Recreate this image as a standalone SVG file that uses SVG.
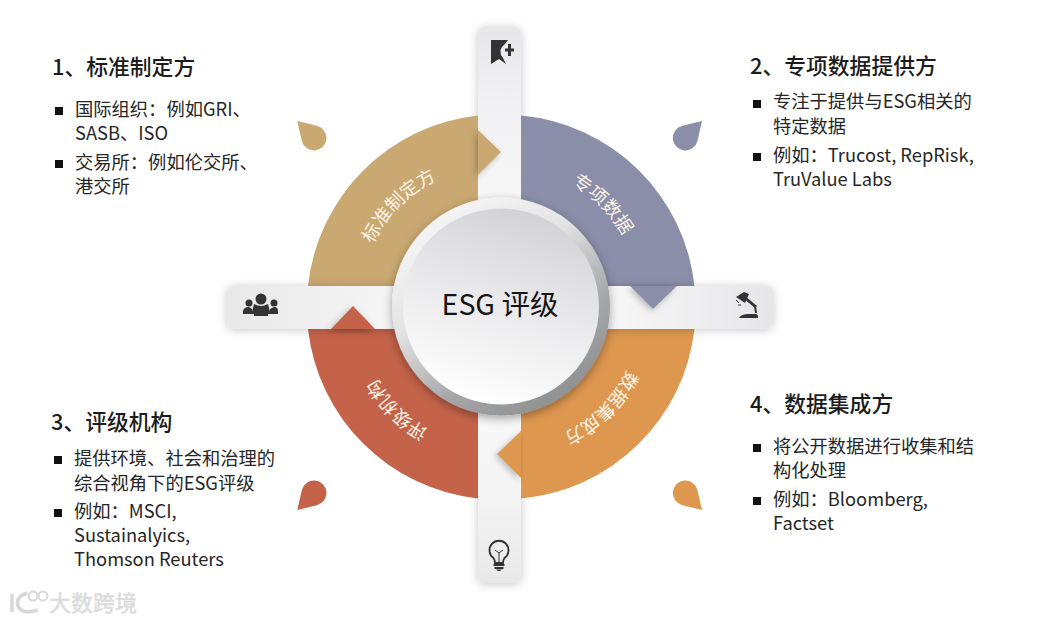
<svg xmlns="http://www.w3.org/2000/svg" xmlns:xlink="http://www.w3.org/1999/xlink" width="1042" height="622" viewBox="0 0 1042 622">
<style>
text{font-family:"Noto Sans CJK SC","Noto Sans",sans-serif;fill:#1c1c1c}
.h{font-size:21.8px;font-weight:500}
.b{font-size:18.3px;fill:#262626}
.arc{font-size:18.5px;fill:#fbf3e6;text-anchor:middle}
.c{font-size:28.5px;text-anchor:middle;fill:#151515}
.sq{fill:#111}
.ic{fill:#333}
.wm{font-size:22px;fill:#d8d8d8;stroke:#e2e2e2;stroke-width:.7}
</style>
<defs>
<linearGradient id="gv1" x1="0" y1="0" x2="0" y2="1"><stop offset="0" stop-color="#e7e7e9"/><stop offset=".14" stop-color="#f1f1f3"/><stop offset=".5" stop-color="#fff"/><stop offset=".86" stop-color="#f3f3f4"/><stop offset="1" stop-color="#e8e8e9"/></linearGradient>
<linearGradient id="gh1" x1="0" y1="0" x2="1" y2="0"><stop offset="0" stop-color="#e8e8e9"/><stop offset=".3" stop-color="#f5f5f6"/><stop offset=".5" stop-color="#fff"/><stop offset=".72" stop-color="#f6f6f7"/><stop offset="1" stop-color="#e6e6e8"/></linearGradient>
<linearGradient id="ring" x1=".2" y1=".05" x2=".8" y2=".95"><stop offset="0" stop-color="#f6f6f7"/><stop offset=".35" stop-color="#e4e4e5"/><stop offset=".7" stop-color="#a6a7a8"/><stop offset="1" stop-color="#8d8e90"/></linearGradient>
<linearGradient id="core" x1=".65" y1="0" x2=".35" y2="1"><stop offset="0" stop-color="#d2d2d5"/><stop offset=".45" stop-color="#e8e8ea"/><stop offset="1" stop-color="#fff"/></linearGradient>
<filter id="sh" x="-30%" y="-30%" width="160%" height="160%"><feDropShadow dx="0" dy="1" stdDeviation="5" flood-color="#000" flood-opacity=".22"/></filter>
<filter id="sh2" x="-30%" y="-30%" width="160%" height="160%"><feDropShadow dx="0" dy="3" stdDeviation="5" flood-color="#000" flood-opacity=".35"/></filter>
<filter id="sh3" x="-30%" y="-30%" width="160%" height="160%"><feDropShadow dx="-2" dy="2" stdDeviation="3" flood-color="#000" flood-opacity=".25"/></filter>
<path id="p1" d="M362.800 270.200A142 142 0 0 1 463.200 169.800"/>
<path id="p2" d="M536.800 169.800A142 142 0 0 1 637.200 270.200"/>
<path id="p3" d="M463.200 444.200A142 142 0 0 1 362.800 343.800"/>
<path id="p4" d="M637.200 343.800A142 142 0 0 1 536.800 444.200"/>
</defs>

<g id="connectors">
<rect x="478" y="27" width="43" height="556" rx="6" fill="url(#gv1)" filter="url(#sh)"/>
</g>

<g id="node-standard">
<path d="M478 115.500A192 192 0 0 0 308 286H478Z" fill="#caa872"/>
<path d="M297.300 121L316.940 125.850A12.500 12.500 0 1 1 301.850 140.940Z" fill="#caa872"/>
</g>
<g id="node-data">
<path d="M521 115.500A192 192 0 0 1 694.500 286H521Z" fill="#8a8ea8"/>
<path d="M702 121L682.360 125.850A12.500 12.500 0 1 0 697.450 140.940Z" fill="#8a8ea8"/>
</g>
<g id="node-agency">
<path d="M308 329A192 192 0 0 0 478 498.500V329Z" fill="#c4634a"/>
<path d="M297.300 510L301.850 490.060A12.500 12.500 0 1 1 316.940 505.150Z" fill="#c4634a"/>
</g>
<g id="node-integrator">
<path d="M694.500 329A192 192 0 0 1 521 498.500V329Z" fill="#de974f"/>
<path d="M702 510L682.360 505.150A12.500 12.500 0 1 1 697.450 490.060Z" fill="#de974f"/>
</g>

<g id="connectors-h">
<rect x="227" y="286" width="546" height="43" rx="6" fill="url(#gh1)" filter="url(#sh)"/>
<rect x="478" y="262" width="43" height="90" fill="#fff"/>
</g>

<g id="tabs">
<path d="M478 130L501 152L478 175Z" fill="#caa872" filter="url(#sh3)"/>
<path d="M630 286L653 309L677 286Z" fill="#8a8ea8" filter="url(#sh3)"/>
<path d="M331 329L353 306L375 329Z" fill="#c4634a" filter="url(#sh3)"/>
<path d="M521 431L497 454L521 478Z" fill="#de974f" filter="url(#sh3)"/>
</g>

<g id="arc-labels">
<text class="arc"><textPath xlink:href="#p1" href="#p1" startOffset="50%">标准制定方</textPath></text>
<text class="arc"><textPath xlink:href="#p2" href="#p2" startOffset="50%">专项数据</textPath></text>
<text class="arc"><textPath xlink:href="#p3" href="#p3" startOffset="50%">评级机构</textPath></text>
<text class="arc"><textPath xlink:href="#p4" href="#p4" startOffset="50%">数据集成方</textPath></text>
</g>

<g id="node-center">
<circle cx="501" cy="306.500" r="109" fill="url(#ring)" filter="url(#sh2)"/>
<circle cx="501" cy="306.500" r="98" fill="url(#core)"/>
<text class="c" x="500" y="315">ESG 评级</text>
</g>

<g id="icon-bookmark" class="ic">
<path d="M491 40H508L504 45A8.500 8.500 0 0 0 503 58L506 64L499 59L491 64Z"/>
<path d="M505 48.500H508V44H511V48.500H514V51.500H511V56H508V51.500H505Z"/>
</g>
<g id="icon-people" class="ic">
<circle cx="249" cy="303" r="3.500"/><circle cx="274" cy="303" r="3.500"/><circle cx="261" cy="299" r="5.500"/>
<path d="M254 304Q261 308 268 304L270 312H252Z"/>
<path d="M243 311Q244 307 249 307L252 309V311H270V309L274 307Q278 307 278 311Z"/>
<path d="M243 311H278V314H268V316H254V314H243Z"/>
</g>
<g id="icon-lamp" class="ic">
<path d="M736 297L744 292L749 294L745 303Z"/>
<path d="M745 296L757 306L755 308L743 298Z"/>
<path d="M754 306L756 306L757 313L755 313Z"/>
<path d="M739 318Q741 314 749 314H756Q758 314 758 318Z"/>
<path d="M736 300L739 303M738 305L741 305" stroke="#333" fill="none"/>
</g>
<g id="icon-bulb">
<path d="M493.500 558A9.500 9.500 0 1 1 504.500 558C503 560 503 561 503 563H495C495 561 495 560 493.500 558Z" fill="none" stroke="#333" stroke-width="1.800"/>
<path d="M495 550L499 553L503 550M499 553V563" fill="none" stroke="#333" stroke-width="1"/>
<path d="M493.500 564H504.500V566H493.500ZM494.500 567H503.500V569H494.500ZM496 569.500H502L500 571H498Z" fill="#333"/>
</g>

<g id="text-1">
<text class="h" x="52" y="75">1、标准制定方</text>
<rect class="sq" x="55" y="107" width="8" height="8"/>
<rect class="sq" x="55" y="160" width="8" height="8"/>
<text class="b" x="75" y="116">国际组织：例如GRI、</text>
<text class="b" x="75" y="140">SASB、ISO</text>
<text class="b" x="75" y="169">交易所：例如伦交所、</text>
<text class="b" x="75" y="193">港交所</text>
</g>
<g id="text-2">
<text class="h" x="750" y="74">2、专项数据提供方</text>
<rect class="sq" x="753" y="100" width="8" height="8"/>
<rect class="sq" x="753" y="153" width="8" height="8"/>
<text class="b" x="773" y="108">专注于提供与ESG相关的</text>
<text class="b" x="773" y="133">特定数据</text>
<text class="b" x="773" y="162">例如：Trucost, RepRisk,</text>
<text class="b" x="773" y="186">TruValue Labs</text>
</g>
<g id="text-3">
<text class="h" x="51" y="430">3、评级机构</text>
<rect class="sq" x="54" y="456" width="8" height="8"/>
<rect class="sq" x="54" y="509" width="8" height="8"/>
<text class="b" x="74" y="465">提供环境、社会和治理的</text>
<text class="b" x="74" y="490">综合视角下的ESG评级</text>
<text class="b" x="74" y="518">例如：MSCI,</text>
<text class="b" x="74" y="542">Sustainalyics,</text>
<text class="b" x="74" y="566">Thomson Reuters</text>
</g>
<g id="text-4">
<text class="h" x="750" y="412">4、数据集成方</text>
<rect class="sq" x="753" y="444" width="8" height="8"/>
<rect class="sq" x="753" y="497" width="8" height="8"/>
<text class="b" x="773" y="453">将公开数据进行收集和结</text>
<text class="b" x="773" y="477">构化处理</text>
<text class="b" x="773" y="506">例如：Bloomberg,</text>
<text class="b" x="773" y="530">Factset</text>
</g>

<g id="watermark">
<path d="M12 594V612M27 593Q15 597 18 606Q22 615 38 610" fill="none" stroke="#d8d8d8" stroke-width="3.500"/>
<circle cx="33" cy="596" r="4.500" fill="none" stroke="#d8d8d8" stroke-width="2"/>
<circle cx="43" cy="596" r="4.500" fill="none" stroke="#d8d8d8" stroke-width="2"/>
<text class="wm" x="49" y="611">大数跨境</text>
</g>
</svg>
